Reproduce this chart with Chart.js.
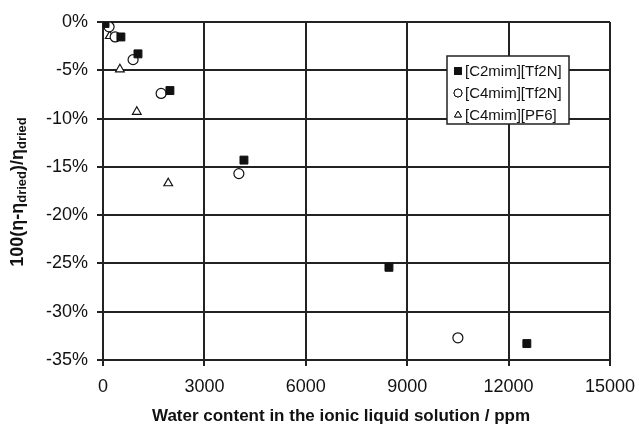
<!DOCTYPE html>
<html>
<head>
<meta charset="utf-8">
<script src="https://cdn.jsdelivr.net/npm/chart.js@4/dist/chart.umd.min.js"></script>
<style>
html,body{margin:0;padding:0;background:#fff;}
#wrap{width:639px;height:428px;position:relative;}
</style>
</head>
<body>
<div id="wrap"><canvas id="c" width="639" height="428"></canvas></div>
<script>
// ---- Data ----
const seriesNames = ["[C2mim][Tf2N]", "[C4mim][Tf2N]", "[C4mim][PF6]"];
const c2mimTf2N_x = [0, 60, 530, 1035, 1980, 4170, 8460, 12540];
const c2mimTf2N_y = [0, -0.15, -1.55, -3.3, -7.1, -14.3, -25.4, -33.3];
const c4mimTf2N_x = [0, 180, 360, 890, 1720, 4020, 10500];
const c4mimTf2N_y = [0, -0.5, -1.55, -3.9, -7.4, -15.7, -32.7];
const c4mimPF6_x = [0, 200, 500, 1000, 1930];
const c4mimPF6_y = [0, -1.45, -4.9, -9.3, -16.7];
const xTicks = [0, 3000, 6000, 9000, 12000, 15000];
const yTicks = [0, -5, -10, -15, -20, -25, -30, -35];
const xTitle = "Water content in the ionic liquid solution / ppm";

function pts(xs, ys){ return xs.map((x,i)=>({x:x, y:ys[i]})); }

const INK = '#111';
const GRID = '#222';
const FAM = '"Liberation Sans", Arial, sans-serif';

const axisTitlesPlugin = {
  id: 'axisTitles',
  afterDraw(chart){
    const ctx = chart.ctx;
    // x title
    ctx.save();
    ctx.fillStyle = INK;
    ctx.font = 'bold 17px ' + FAM;
    ctx.textAlign = 'center';
    ctx.textBaseline = 'middle';
    ctx.fillText(xTitle, 341, 416);
    ctx.restore();
    // y title with subscripts
    ctx.save();
    ctx.translate(18, 192);
    ctx.rotate(-Math.PI/2);
    ctx.fillStyle = INK;
    ctx.textBaseline = 'middle';
    const big = 'bold 18px ' + FAM;
    const small = 'bold 13px ' + FAM;
    const parts = [
      {t:'100(\u03b7-\u03b7', f:big, dy:0},
      {t:'dried', f:small, dy:4},
      {t:')/\u03b7', f:big, dy:0},
      {t:'dried', f:small, dy:4}
    ];
    let total = 0;
    parts.forEach(p=>{ ctx.font = p.f; p.w = ctx.measureText(p.t).width; total += p.w; });
    let x = -total/2;
    ctx.textAlign = 'left';
    parts.forEach(p=>{ ctx.font = p.f; ctx.fillText(p.t, x, p.dy); x += p.w; });
    ctx.restore();
  }
};

const legendPlugin = {
  id: 'boxLegend',
  afterDraw(chart){
    const ctx = chart.ctx;
    const bx = 447, by = 56, bw = 122, bh = 68;
    ctx.save();
    ctx.fillStyle = '#fff';
    ctx.fillRect(bx, by, bw, bh);
    ctx.strokeStyle = GRID;
    ctx.lineWidth = 1.5;
    ctx.strokeRect(bx, by, bw, bh);
    ctx.font = '15px ' + FAM;
    ctx.textBaseline = 'middle';
    ctx.textAlign = 'left';
    chart.data.datasets.forEach((ds, i)=>{
      const cy = by + 15 + i*22;
      Chart.helpers.drawPoint(ctx, {
        pointStyle: ds.pointStyle, radius: ds.pointStyle==='rect'?4.6:4,
        borderWidth: 1
      }, 458, cy);
      ctx.fillStyle = ds.backgroundColor;
      ctx.strokeStyle = INK;
      ctx.lineWidth = 1;
      ctx.fill();
      ctx.stroke();
      ctx.fillStyle = INK;
      ctx.fillText(ds.label, 465, cy+1);
    });
    ctx.restore();
  }
};

new Chart(document.getElementById('c'), {
  type: 'scatter',
  data: {
    datasets: [
      { label: seriesNames[0], data: pts(c2mimTf2N_x, c2mimTf2N_y), pointStyle: 'rect', pointRadius: 5.6,
        backgroundColor: INK, borderColor: INK, borderWidth: 1 },
      { label: seriesNames[1], data: pts(c4mimTf2N_x, c4mimTf2N_y), pointStyle: 'circle', pointRadius: 5,
        backgroundColor: '#fff', borderColor: INK, borderWidth: 1.2 },
      { label: seriesNames[2], data: pts(c4mimPF6_x, c4mimPF6_y), pointStyle: 'triangle', pointRadius: 5,
        backgroundColor: '#fff', borderColor: INK, borderWidth: 1.2 }
    ]
  },
  options: {
    responsive: false,
    animation: false,
    devicePixelRatio: 1,
    layout: { padding: { left: 0, right: 29, top: 22, bottom: 0 } },
    plugins: { legend: { display: false }, tooltip: { enabled: false } },
    elements: { point: { hoverRadius: 5 } },
    scales: {
      x: {
        type: 'linear', min: 0, max: 15000,
        afterBuildTicks(s){ s.ticks = xTicks.map(v=>({value:v})); },
        afterFit(s){ s.height = 68; s.paddingRight = 0; s.paddingLeft = 0; },
        grid: { color: GRID, lineWidth: 2, tickLength: 6, drawTicks: true, tickColor: GRID },
        border: { color: GRID, width: 2 },
        ticks: { color: INK, font: { family: FAM, size: 18 }, padding: 10, maxRotation: 0,
          callback: v => String(v) },
        title: { display: false }
      },
      y: {
        type: 'linear', min: -35, max: 0,
        afterBuildTicks(s){ s.ticks = yTicks.map(v=>({value:v})); },
        afterFit(s){ s.width = 103; s.paddingTop = 0; s.paddingBottom = 0; },
        grid: { color: GRID, lineWidth: 2, tickLength: 6, drawTicks: true, tickColor: GRID },
        border: { color: GRID, width: 2 },
        ticks: { color: INK, font: { family: FAM, size: 18 }, padding: 9,
          callback: v => v + '%' }
      }
    }
  },
  plugins: [axisTitlesPlugin, legendPlugin]
});
</script>
</body>
</html>
